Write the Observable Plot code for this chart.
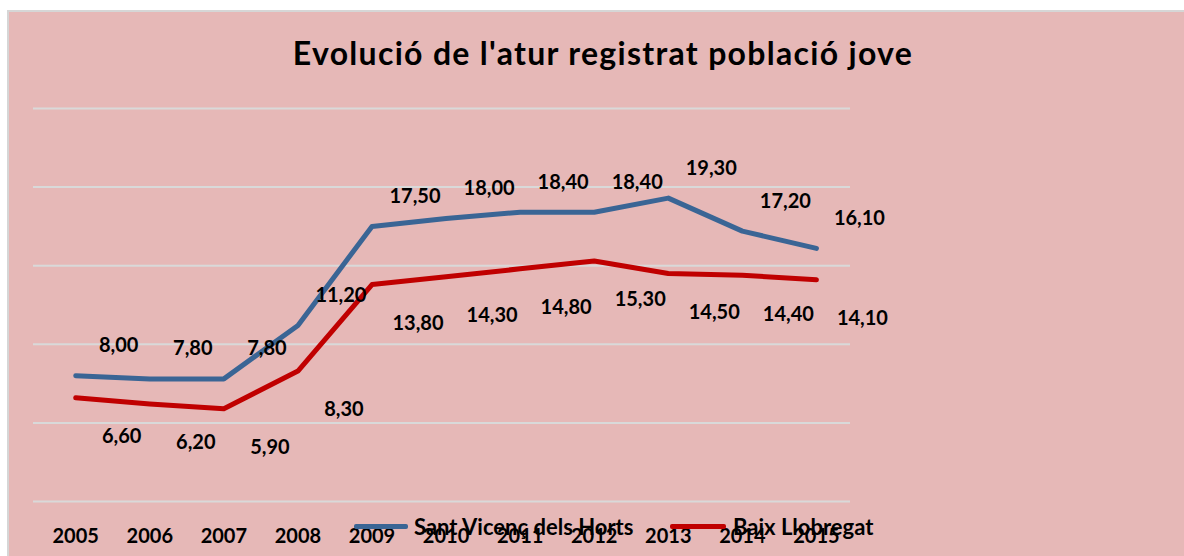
<!DOCTYPE html>
<html>
<head>
<meta charset="utf-8">
<script src="https://cdn.jsdelivr.net/npm/d3@7"></script>
<script src="https://cdn.jsdelivr.net/npm/@observablehq/plot@0.6"></script>
<style>
  html, body { margin: 0; padding: 0; background: #fff; }
  #wrap { position: relative; width: 1184px; height: 556px; overflow: hidden; font-family: Lato, "Open Sans", sans-serif; }
  #panel { position: absolute; left: 7px; top: 10px; width: 1190px; height: 560px; background: #E6B8B7; border-left: 2px solid #D6D6D6; border-top: 2px solid #D6D6D6; }
  #title { position: absolute; left: 0; width: 1206px; top: 36px; line-height: 34px; text-align: center; font-size: 32px; letter-spacing: 1.3px; font-weight: 700; color: #000; white-space: nowrap; }
  #chart { position: absolute; left: 0; top: 0; }
  .leg { position: absolute; top: 513px; font-size: 22px; line-height: normal; font-weight: 700; color: #000; white-space: nowrap; }
  .sw { position: absolute; height: 5px; top: 524px; border-radius: 2px; }
</style>
</head>
<body>
<div id="wrap">
  <div id="panel"></div>
  <div id="title">Evolució de l'atur registrat població jove</div>
  <div id="chart"></div>
</div>
<script>
const years = [2005, 2006, 2007, 2008, 2009, 2010, 2011, 2012, 2013, 2014, 2015];
const santVicenc = [8.0, 7.8, 7.8, 11.2, 17.5, 18.0, 18.4, 18.4, 19.3, 17.2, 16.1];
const baixLlobregat = [6.6, 6.2, 5.9, 8.3, 13.8, 14.3, 14.8, 15.3, 14.5, 14.4, 14.1];
const seriesNames = ["Sant Vicenç dels Horts", "Baix Llobregat"];
const seriesColors = ["#3A6595", "#C00000"];
const gridValues = [0, 5, 10, 15, 20, 25];

const rows = [];
years.forEach((yr, i) => {
  rows.push({year: yr, value: santVicenc[i], series: seriesNames[0]});
  rows.push({year: yr, value: baixLlobregat[i], series: seriesNames[1]});
});
const fmt = v => v.toFixed(2).replace(".", ",");

const plot = Plot.plot({
  width: 1184,
  height: 556,
  marginLeft: 33,
  marginRight: 334,
  marginTop: 108,
  marginBottom: 55,
  style: { background: "transparent", fontFamily: "Lato, 'Open Sans', sans-serif" },
  x: { type: "linear", domain: [2004.43, 2015.46], axis: null },
  y: { domain: [0, 25], axis: null },
  color: { domain: seriesNames, range: seriesColors },
  marks: [
    Plot.ruleY(gridValues, { stroke: "#D9D9D9", strokeWidth: 2 }),
    Plot.axisX(years, { anchor: "bottom", tickSize: 0, tickPadding: 27, tickFormat: d => String(d), fontSize: 20, fontWeight: "bold", fill: "#000", label: null }),
    Plot.line(rows, { x: "year", y: "value", z: "series", stroke: "series", strokeWidth: 5, strokeLinejoin: "round", strokeLinecap: "round" }),
    Plot.text(rows.filter(d => d.series === seriesNames[0]), { x: "year", y: "value", text: d => fmt(d.value), dx: 43, dy: -30, fontSize: 20, fontWeight: "bold", fill: "#000" }),
    Plot.text(rows.filter(d => d.series === seriesNames[1]), { x: "year", y: "value", text: d => fmt(d.value), dx: 46, dy: 39, fontSize: 20, fontWeight: "bold", fill: "#000" })
  ]
});
document.getElementById("chart").appendChild(plot);

// legend
const wrap = document.getElementById("wrap");
const legPos = [{sw: 354, w: 54, tx: 414}, {sw: 670, w: 56, tx: 733}];
seriesNames.forEach((name, i) => {
  const s = document.createElement("div");
  s.className = "sw";
  s.style.left = legPos[i].sw + "px";
  s.style.width = legPos[i].w + "px";
  s.style.background = seriesColors[i];
  wrap.appendChild(s);
  const t = document.createElement("div");
  t.className = "leg";
  t.style.left = legPos[i].tx + "px";
  t.textContent = name;
  wrap.appendChild(t);
});
</script>
</body>
</html>
